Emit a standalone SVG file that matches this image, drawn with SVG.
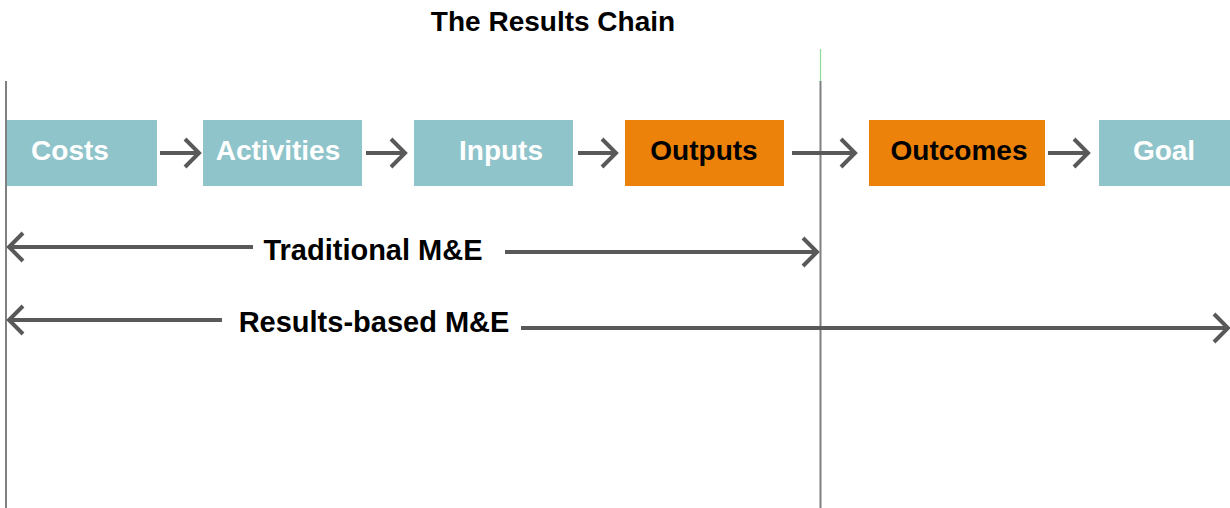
<svg xmlns="http://www.w3.org/2000/svg" width="1230" height="508" viewBox="0 0 1230 508">
  <style>
    .box-teal { fill: #8fc4cb; }
    .box-orange { fill: #ec820a; }
    .label { font-family: "Liberation Sans", Arial, sans-serif; font-weight: bold; font-size: 28px; text-anchor: middle; }
    .span { font-size: 29px; }
    .light { fill: #ffffff; }
    .dark { fill: #000000; }
    .conn { stroke: #595959; stroke-width: 4; fill: none; }
    .head { stroke: #595959; stroke-width: 4; fill: none; stroke-linejoin: miter; }
    .guide { stroke: #808080; stroke-width: 2; }
  </style>

  <rect width="1230" height="508" fill="#ffffff"/>

  <!-- Title -->
  <text class="label dark" x="553" y="31" font-size="28.6">The Results Chain</text>

  <!-- Boundary guides -->
  <g id="guides">
    <line class="guide" x1="6" y1="81" x2="6" y2="508"/>
    <line x1="820.5" y1="49" x2="820.5" y2="81" stroke="#8fd89a" stroke-width="1.2"/>
    <line class="guide" x1="820.5" y1="81" x2="820.5" y2="508"/>
  </g>

  <!-- Chain nodes -->
  <g id="costs">
    <rect class="box-teal" x="7" y="120" width="150" height="66"/>
    <text class="label light" x="70" y="160">Costs</text>
  </g>
  <g id="activities">
    <rect class="box-teal" x="203" y="120" width="159" height="66"/>
    <text class="label light" x="278" y="160">Activities</text>
  </g>
  <g id="inputs">
    <rect class="box-teal" x="414" y="120" width="159" height="66"/>
    <text class="label light" x="501" y="160">Inputs</text>
  </g>
  <g id="outputs">
    <rect class="box-orange" x="625" y="120" width="159" height="66"/>
    <text class="label dark" x="704" y="160">Outputs</text>
  </g>
  <g id="outcomes">
    <rect class="box-orange" x="869" y="120" width="176" height="66"/>
    <text class="label dark" x="959" y="160">Outcomes</text>
  </g>
  <g id="goal">
    <rect class="box-teal" x="1099" y="120" width="131" height="66"/>
    <text class="label light" x="1164" y="160">Goal</text>
  </g>

  <!-- Connectors -->
  <g id="connectors">
    <line class="conn" x1="160" y1="153" x2="200" y2="153"/>
    <polyline class="head" points="185,139 199,153 185,167"/>
    <line class="conn" x1="366" y1="153" x2="406" y2="153"/>
    <polyline class="head" points="391,139 405,153 391,167"/>
    <line class="conn" x1="578" y1="153" x2="617" y2="153"/>
    <polyline class="head" points="602,139 616,153 602,167"/>
    <line class="conn" x1="792" y1="153" x2="856" y2="153"/>
    <polyline class="head" points="841,139 855,153 841,167"/>
    <line class="conn" x1="1048" y1="153" x2="1089" y2="153"/>
    <polyline class="head" points="1074,139 1088,153 1074,167"/>

    <!-- Traditional M&E span -->
    <line class="conn" x1="9" y1="247" x2="253" y2="247"/>
    <polyline class="head" points="23,233 9,247 23,261"/>
    <line class="conn" x1="505" y1="252" x2="816" y2="252"/>
    <polyline class="head" points="803,238 817,252 803,266"/>

    <!-- Results-based M&E span -->
    <line class="conn" x1="9" y1="320" x2="222" y2="320"/>
    <polyline class="head" points="23,306 9,320 23,334"/>
    <line class="conn" x1="521" y1="328" x2="1227" y2="328"/>
    <polyline class="head" points="1214,314 1228,328 1214,342"/>
  </g>

  <!-- Span labels -->
  <text class="label span dark" x="373" y="260">Traditional M&amp;E</text>
  <text class="label span dark" x="374" y="332">Results-based M&amp;E</text>
</svg>
